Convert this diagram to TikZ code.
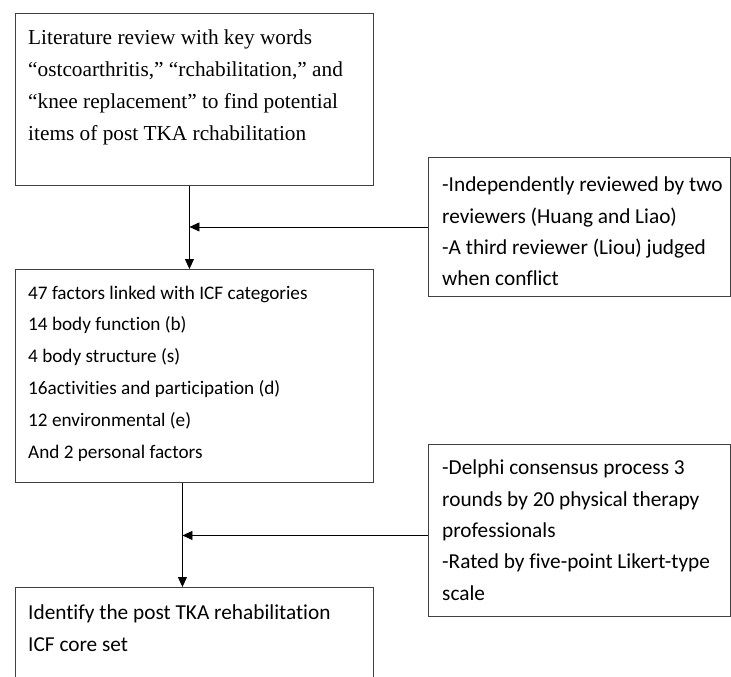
\documentclass[tikz,border=0pt]{standalone}
\usepackage{fontspec}
\setmainfont{Liberation Serif}
\newfontfamily\calibri[Ligatures=NoCommon]{Carlito}
\usetikzlibrary{arrows.meta,positioning}

\begin{document}
\begin{tikzpicture}[x=1pt, y=-1pt,
  stepbox/.style={draw=boxgray, line width=0.9pt, anchor=north west, inner sep=0pt},
  boxtext/.style={anchor=north west, align=left, inner sep=0pt},
  serifsize/.style={font=\fontsize{21.3}{32}\selectfont},
  sanssize/.style={font=\calibri\fontsize{21.3}{31.3}\selectfont},
  smallsans/.style={font=\calibri\fontsize{19.2}{31.8}\selectfont},
  flow/.style={-{Triangle[length=10pt, width=9pt]}, line width=0.9pt, draw=black}]

\definecolor{boxgray}{HTML}{404040}
\useasboundingbox (0,0) rectangle (731,677);
\clip (0,0) rectangle (731,677);

% Literature review (top box)
\node[stepbox, minimum width=358pt, minimum height=172pt] (lit) at (15,13) {};
\node[boxtext, serifsize] (littext) at (28,30) {Literature review with key words\\
  ``ostcoarthritis,'' ``rchabilitation,'' and\\
  ``knee replacement'' to find potential\\
  items of post TKA rchabilitation};

% ICF linking (middle box)
\node[stepbox, minimum width=358pt, minimum height=213pt] (icf) at (15,269) {};
\node[boxtext, smallsans] (icftext) at (28,285.5) {47 factors linked with ICF categories\\
  14 body function (b)\\
  4 body structure (s)\\
  16activities and participation (d)\\
  12 environmental (e)\\
  And 2 personal factors};

% Core set (bottom box, runs off the page)
\node[stepbox, minimum width=358pt, minimum height=130pt] (core) at (15,587) {};
\node[boxtext, sanssize] (coretext) at (28,605) {Identify the post TKA rehabilitation\\
  ICF core set};

% Review step (right, upper)
\node[stepbox, minimum width=302pt, minimum height=139pt] (review) at (428,157) {};
\node[boxtext, sanssize] (reviewtext) at (442,177) {-Independently reviewed by two\\
  reviewers (Huang and Liao)\\
  -A third reviewer (Liou) judged\\
  when conflict};

% Delphi step (right, lower)
\node[stepbox, minimum width=302pt, minimum height=172pt] (delphi) at (428,444) {};
\node[boxtext, sanssize] (delphitext) at (442,460) {-Delphi consensus process 3\\
  rounds by 20 physical therapy\\
  professionals\\
  -Rated by five-point Likert-type\\
  scale};

% Arrows down the main column
\coordinate (j1) at ([xshift=-5pt]lit.south);
\coordinate (j2) at ([xshift=-12pt]icf.south);
\draw[flow] (j1) -- ([xshift=-5pt]icf.north);
\draw[flow] (j2) -- (j2 |- core.north);

% Arrows in from the side boxes
\draw[flow] (review.west) -- (review.west -| j1);
\draw[flow] ([yshift=-5pt]delphi.west) -- ([yshift=-5pt]delphi.west -| j2);

\end{tikzpicture}
\end{document}
